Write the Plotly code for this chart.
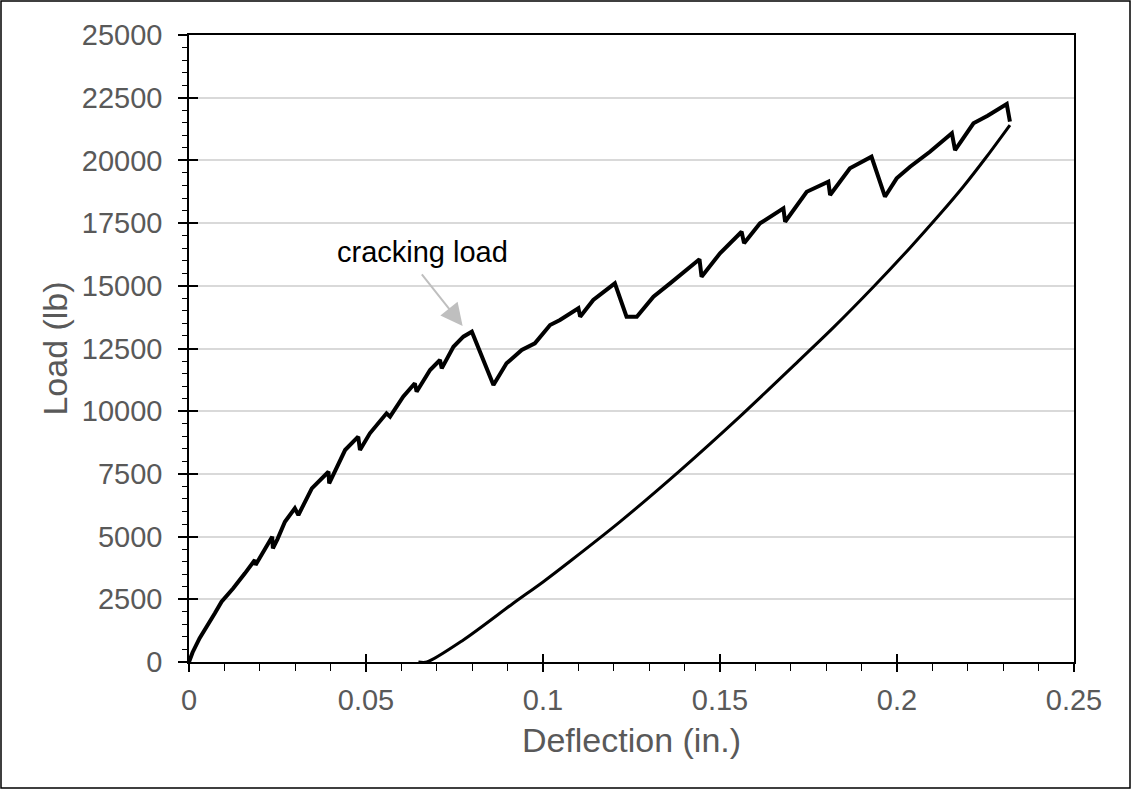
import plotly.graph_objects as go

# Load-deflection record of the beam test: loading branch and unloading branch
loading_deflection = [
    0.0, 0.0010, 0.0030, 0.0045, 0.0073, 0.0092, 0.0125, 0.0158, 0.0186, 0.0188,
    0.0215, 0.0235, 0.0237, 0.0250, 0.0271, 0.0299, 0.0309, 0.0347, 0.0394, 0.0396,
    0.0441, 0.0478, 0.0483, 0.0511, 0.0558, 0.0568, 0.0605, 0.0638, 0.0643, 0.0681,
    0.0709, 0.0714, 0.0747, 0.0775, 0.0799, 0.0860, 0.0897, 0.0940, 0.0977, 0.1020,
    0.1048, 0.1100, 0.1105, 0.1142, 0.1203, 0.1236, 0.1265, 0.1312, 0.1359, 0.1406,
    0.1442, 0.1448, 0.1500, 0.1561, 0.1568, 0.1613, 0.1679, 0.1684, 0.1745, 0.1806,
    0.1811, 0.1867, 0.1928, 0.1966, 0.1999, 0.2037, 0.2093, 0.2155, 0.2164, 0.2216,
    0.2256, 0.2310, 0.2319,
]
loading_load = [
    0, 380, 950, 1276, 1940, 2404, 2938, 3536, 4067, 3868,
    4533, 4996, 4533, 4900, 5594, 6128, 5861, 6925, 7587, 7125,
    8452, 8983, 8452, 9118, 9916, 9782, 10578, 11112, 10777, 11642,
    12041, 11709, 12571, 12970, 13169, 11044, 11909, 12439, 12706, 13436,
    13635, 14102, 13768, 14433, 15099, 13768, 13768, 14564, 15099, 15630,
    16056, 15362, 16295, 17156, 16700, 17491, 18088, 17555, 18751, 19150,
    18619, 19684, 20146, 18552, 19285, 19748, 20346, 21079, 20413, 21478,
    21780, 22247, 21542,
]

unloading_deflection = [
    0.2319, 0.2253, 0.2187, 0.2121, 0.2037, 0.1933, 0.1820, 0.1726, 0.1556, 0.1387,
    0.1218, 0.1081, 0.1001, 0.0916, 0.0775, 0.0672, 0.0648,
]
unloading_load = [
    21410, 20146, 18950, 17850, 16520, 14950, 13330, 12057, 9784, 7631,
    5598, 4067, 3202, 2340, 877, 0, 0,
]

x_range = [0, 0.25]
y_range = [0, 25000]
x_ticks = [0, 0.05, 0.1, 0.15, 0.2, 0.25]
x_tick_text = ["0", "0.05", "0.1", "0.15", "0.2", "0.25"]
y_ticks = [0, 2500, 5000, 7500, 10000, 12500, 15000, 17500, 20000, 22500, 25000]
y_tick_text = [str(v) for v in y_ticks]

# Annotated point (arrow tip) and label position
crack_point = (0.0773, 13400)
crack_label = (0.0660, 16360)

FONT = "Liberation Sans, Arial, sans-serif"
GREY_TEXT = "#595959"

fig = go.Figure()
fig.add_trace(go.Scatter(
    x=loading_deflection, y=loading_load, mode="lines",
    line=dict(color="black", width=4), showlegend=False, hoverinfo="skip",
))
fig.add_trace(go.Scatter(
    x=unloading_deflection, y=unloading_load, mode="lines",
    line=dict(color="black", width=3, shape="spline", smoothing=0.8),
    showlegend=False, hoverinfo="skip",
    xaxis="x2", yaxis="y2",
))

fig.update_layout(
    width=1131, height=790,
    margin=dict(l=189, r=57, t=35, b=128),
    paper_bgcolor="white", plot_bgcolor="white",
    font=dict(family=FONT, color=GREY_TEXT),
    xaxis=dict(
        range=x_range, tickvals=x_ticks, ticktext=x_tick_text,
        showgrid=False, zeroline=False,
        showline=True, linecolor="black", linewidth=1.5, mirror=True,
        ticks="outside", ticklen=8, tickwidth=1.5, tickcolor="black",
        minor=dict(dtick=0.01, ticks="outside", ticklen=7, tickwidth=1.2, tickcolor="black", showgrid=False),
        tickfont=dict(size=29, color=GREY_TEXT, family=FONT),
        ticklabelstandoff=3,
        title=dict(text="Deflection (in.)", font=dict(size=34, color=GREY_TEXT, family=FONT), standoff=14),
    ),
    yaxis=dict(
        range=y_range, tickvals=y_ticks, ticktext=y_tick_text,
        showgrid=True, gridcolor="#d9d9d9", gridwidth=1.5, zeroline=False,
        showline=True, linecolor="black", linewidth=1.5, mirror=True,
        ticks="outside", ticklen=9, tickwidth=1.5, tickcolor="black",
        minor=dict(dtick=500, ticks="outside", ticklen=5, tickwidth=1.2, tickcolor="black", showgrid=False),
        tickfont=dict(size=29, color=GREY_TEXT, family=FONT),
        ticklabelstandoff=10,
        title=dict(text="Load (lb)", font=dict(size=34, color=GREY_TEXT, family=FONT), standoff=4),
    ),
    # overlay axes carry the inward half of each major tick
    xaxis2=dict(
        range=x_range, tickvals=x_ticks, overlaying="x", side="bottom", anchor="y2",
        showgrid=False, zeroline=False, showline=False, showticklabels=False,
        ticks="inside", ticklen=8, tickwidth=1.5, tickcolor="black",
    ),
    yaxis2=dict(
        range=y_range, tickvals=y_ticks, overlaying="y", side="left", anchor="x2",
        showgrid=False, zeroline=False, showline=False, showticklabels=False,
        ticks="inside", ticklen=9, tickwidth=1.5, tickcolor="black",
    ),
)

fig.add_annotation(
    x=crack_point[0], y=crack_point[1], xref="x", yref="y",
    ax=-42, ay=-53, axref="pixel", ayref="pixel",
    text="", showarrow=True, arrowhead=2, arrowsize=2.2, arrowwidth=2, arrowcolor="#bfbfbf",
)
fig.add_annotation(
    x=crack_label[0], y=crack_label[1], xref="x", yref="y",
    text="cracking load", showarrow=False,
    font=dict(size=29, color="black", family=FONT),
    xanchor="center", yanchor="middle",
)

# chart-area frame around the whole figure
pw, ph = 1131 - 189 - 57, 790 - 35 - 128
fig.add_shape(
    type="rect", xref="paper", yref="paper",
    x0=(1 - 189) / pw, x1=(1130 - 189) / pw,
    y0=(662 - 788) / ph, y1=(662 - 1) / ph,
    line=dict(color="black", width=1.5), fillcolor="rgba(0,0,0,0)", layer="below",
)

fig.write_html("out.html")
